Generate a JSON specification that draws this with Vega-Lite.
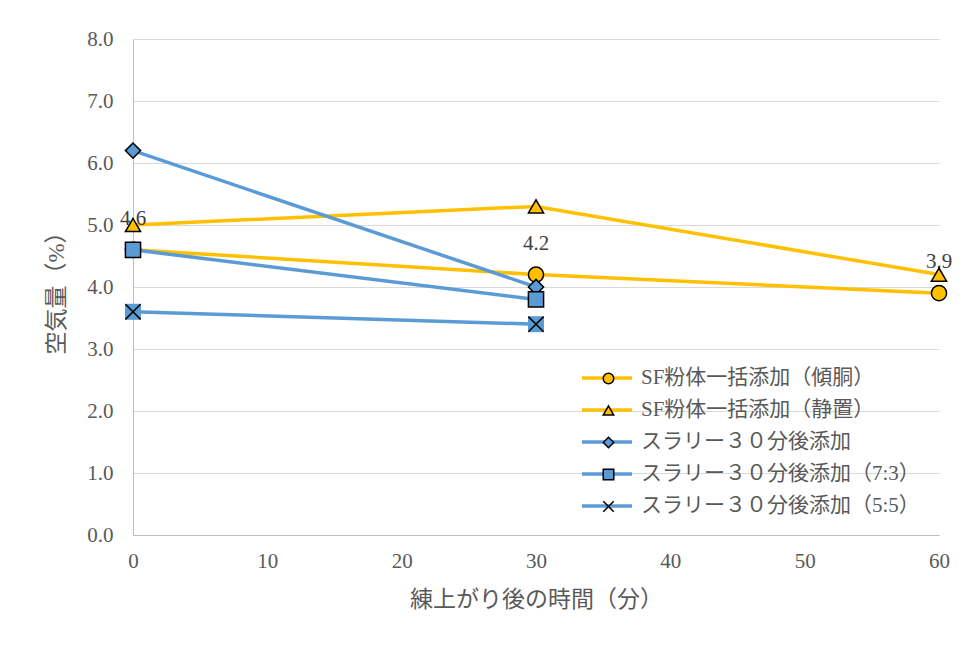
{
  "$schema": "https://vega.github.io/schema/vega-lite/v6.json",
  "width": 806,
  "height": 496,
  "autosize": {"type": "none"},
  "padding": {"left": 133, "top": 39, "right": 33, "bottom": 111},
  "background": "white",
  "config": {
    "font": "Liberation Serif, Noto Sans CJK JP",
    "view": {"stroke": null},
    "axis": {
      "labelFont": "Liberation Serif, Noto Sans CJK JP",
      "titleFont": "Liberation Serif, Noto Sans CJK JP",
      "labelFontSize": 21,
      "labelColor": "#595959",
      "titleFontSize": 23,
      "titleColor": "#595959",
      "titleFontWeight": "normal",
      "ticks": false,
      "domainColor": "#bfbfbf",
      "domainWidth": 1,
      "gridColor": "#d9d9d9",
      "gridWidth": 1,
      "labelFlush": false,
      "labelBound": false
    },
    "legend": {
      "labelFont": "Liberation Serif, Noto Sans CJK JP"
    }
  },
  "data": {
    "values": [
      {"series": "SF粉体一括添加（傾胴）", "time": 0, "air": 4.6},
      {"series": "SF粉体一括添加（傾胴）", "time": 30, "air": 4.2},
      {"series": "SF粉体一括添加（傾胴）", "time": 60, "air": 3.9},
      {"series": "SF粉体一括添加（静置）", "time": 0, "air": 5.0},
      {"series": "SF粉体一括添加（静置）", "time": 30, "air": 5.3},
      {"series": "SF粉体一括添加（静置）", "time": 60, "air": 4.2},
      {"series": "スラリー３０分後添加", "time": 0, "air": 6.2},
      {"series": "スラリー３０分後添加", "time": 30, "air": 4.0},
      {"series": "スラリー３０分後添加（7:3）", "time": 0, "air": 4.6},
      {"series": "スラリー３０分後添加（7:3）", "time": 30, "air": 3.8},
      {"series": "スラリー３０分後添加（5:5）", "time": 0, "air": 3.6},
      {"series": "スラリー３０分後添加（5:5）", "time": 30, "air": 3.4}
    ]
  },
  "encoding": {
    "x": {
      "field": "time",
      "type": "quantitative",
      "scale": {"domain": [0, 60]},
      "axis": {
        "title": "練上がり後の時間（分）",
        "values": [0, 10, 20, 30, 40, 50, 60],
        "grid": false,
        "labelPadding": 15,
        "titlePadding": 17
      }
    },
    "y": {
      "field": "air",
      "type": "quantitative",
      "scale": {"domain": [0, 8]},
      "axis": {
        "title": "空気量（%）",
        "values": [0, 1, 2, 3, 4, 5, 6, 7, 8],
        "format": ".1f",
        "grid": true,
        "labelPadding": 20,
        "titlePadding": 18
      }
    }
  },
  "layer": [
    {
      "mark": {"type": "line", "strokeWidth": 3.5},
      "encoding": {
        "stroke": {
          "field": "series",
          "type": "nominal",
          "sort": [
            "SF粉体一括添加（傾胴）",
            "SF粉体一括添加（静置）",
            "スラリー３０分後添加",
            "スラリー３０分後添加（7:3）",
            "スラリー３０分後添加（5:5）"
          ],
          "scale": {"range": ["#FFC000", "#FFC000", "#5B9BD5", "#5B9BD5", "#5B9BD5"]},
          "legend": {
            "title": null,
            "orient": "none",
            "legendX": 462,
            "legendY": 327,
            "direction": "vertical",
            "padding": 0,
            "symbolType": "M-2.5,0L2.5,0",
            "symbolSize": 400,
            "symbolStrokeWidth": 3.5,
            "labelFontSize": 21,
            "labelColor": "#595959",
            "labelOffset": 22,
            "labelLimit": 400,
            "rowPadding": 10
          }
        }
      }
    },
    {
      "transform": [{"filter": "datum.series == 'SF粉体一括添加（傾胴）'"}],
      "mark": {"type": "text", "dy": -31, "fontSize": 21, "color": "#404040", "font": "Liberation Serif"},
      "encoding": {
        "text": {"field": "air", "type": "quantitative", "format": ".1f"}
      }
    },
    {
      "transform": [{"filter": "datum.series == 'スラリー３０分後添加（5:5）'"}],
      "mark": {"type": "point", "shape": "square", "filled": true, "fill": "#5B9BD5", "opacity": 1, "size": 256, "strokeWidth": 0}
    },
    {
      "mark": {"type": "point", "filled": true, "opacity": 1, "stroke": "black", "strokeWidth": 1.5, "size": 230},
      "encoding": {
        "fill": {
          "field": "series",
          "type": "nominal",
          "scale": {
            "domain": [
              "SF粉体一括添加（傾胴）",
              "SF粉体一括添加（静置）",
              "スラリー３０分後添加",
              "スラリー３０分後添加（7:3）",
              "スラリー３０分後添加（5:5）"
            ],
            "range": ["#FFC000", "#FFC000", "#5B9BD5", "#5B9BD5", "#5B9BD5"]
          },
          "legend": {
            "title": null,
            "orient": "none",
            "legendX": 465,
            "legendY": 329,
            "direction": "vertical",
            "padding": 0,
            "zindex": 1,
            "symbolSize": 110,
            "labelFontSize": 21,
            "labelOpacity": 0,
            "labelOffset": 8,
            "labelLimit": 400,
            "rowPadding": 10,
            "encode": {
              "symbols": {
                "update": {
                  "stroke": {"value": "black"},
                  "strokeWidth": {"value": 1.5}
                }
              }
            }
          }
        },
        "shape": {
          "field": "series",
          "type": "nominal",
          "scale": {
            "domain": [
              "SF粉体一括添加（傾胴）",
              "SF粉体一括添加（静置）",
              "スラリー３０分後添加",
              "スラリー３０分後添加（7:3）",
              "スラリー３０分後添加（5:5）"
            ],
            "range": ["circle", "triangle-up", "diamond", "square", "M-1,-1L1,1M-1,1L1,-1"]
          },
          "legend": {
            "title": null,
            "orient": "none",
            "legendX": 465,
            "legendY": 329,
            "direction": "vertical",
            "padding": 0,
            "zindex": 1,
            "symbolSize": 110,
            "labelFontSize": 21,
            "labelOpacity": 0,
            "labelOffset": 8,
            "labelLimit": 400,
            "rowPadding": 10,
            "encode": {
              "symbols": {
                "update": {
                  "stroke": {"value": "black"},
                  "strokeWidth": {"value": 1.5}
                }
              }
            }
          }
        }
      }
    }
  ]
}
